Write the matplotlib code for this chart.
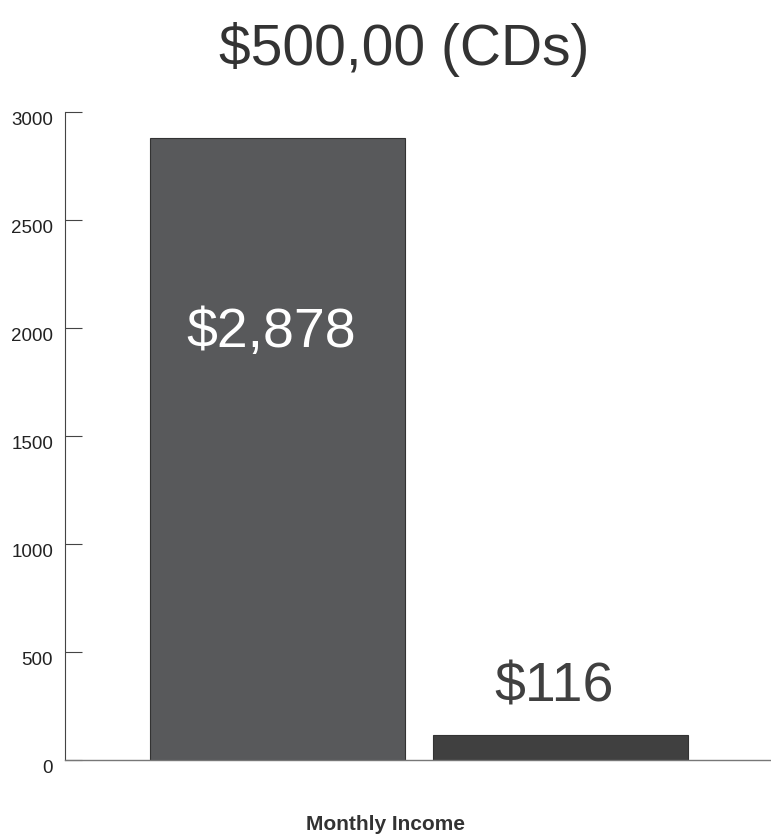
import numpy as np
import matplotlib.pyplot as plt

# data
categories = ["CDs", "Monthly Income"]
values = [2878, 116]
labels = ["$2,878", "$116"]
colors = ["#58595b", "#404040"]
label_colors = ["white", "#404040"]
label_y = [1975, 335]
yticks = [0, 500, 1000, 1500, 2000, 2500, 3000]

plt.rcParams['font.family'] = ['Liberation Sans', 'DejaVu Sans']

fig = plt.figure(figsize=(7.71, 8.35), dpi=100)
ax = fig.add_axes([0.0843, 0.0898, 0.9144, 0.7761])

x = np.arange(len(values))
ax.bar(x, values, width=0.901, color=colors, edgecolor="#333333", linewidth=0.8)

for i in range(len(values)):
    ax.text(x[i] - 0.024, label_y[i], labels[i], ha="center", va="center",
            fontsize=40, color=label_colors[i])

ax.set_xlim(-0.751, 1.740)
ax.set_ylim(0, 3000)
ax.set_yticks(yticks)
ax.set_xticks([])
ax.tick_params(axis="y", direction="in", length=12, width=0.8, color="#444444",
               pad=8.5, labelsize=13.5, labelcolor="#222222")
for lab in ax.get_yticklabels():
    lab.set_va("top")

for s in ["top", "right"]:
    ax.spines[s].set_visible(False)
ax.spines["left"].set_color("#444444")
ax.spines["left"].set_linewidth(0.8)
ax.spines["bottom"].set_color("#777777")
ax.spines["bottom"].set_linewidth(1.0)

fig.text(0.524, 0.922, "$500,00 (CDs)", ha="center", va="baseline",
         fontsize=41, color="#333333")
fig.text(0.5, 0.013, "Monthly Income", ha="center", va="center",
         fontsize=15, fontweight="bold", color="#333333")

fig.savefig("out.png", dpi=100)
